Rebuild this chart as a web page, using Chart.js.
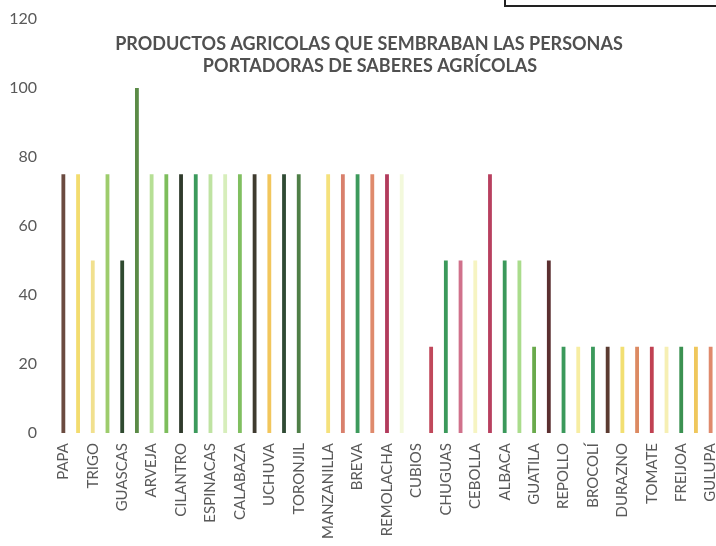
<!DOCTYPE html>
<html>
<head>
<meta charset="utf-8">
<script src="https://cdn.jsdelivr.net/npm/chart.js@4"></script>
<style>
  html, body { margin: 0; padding: 0; background: #fff; overflow: hidden; }
  #wrap { width: 720px; height: 546px; }
</style>
</head>
<body>
<div id="wrap"><canvas id="cultivos"></canvas></div>
<script>
// products (only every other name is readable in the picture)
const productos = [
    "PAPA", "", "TRIGO", "", "GUASCAS", "", "ARVEJA", "", "CILANTRO", "",
    "ESPINACAS", "", "CALABAZA", "", "UCHUVA", "", "TORONJIL", "", "MANZANILLA", "",
    "BREVA", "", "REMOLACHA", "", "CUBIOS", "", "CHUGUAS", "", "CEBOLLA", "",
    "ALBACA", "", "GUATILA", "", "REPOLLO", "", "BROCOLÍ", "", "DURAZNO", "",
    "TOMATE", "", "FREIJOA", "", "GULUPA"
];

// percentage of people
const porcentajes = [
    75, 75, 50, 75, 50, 100, 75, 75, 75, 75,
    75, 75, 75, 75, 75, 75, 75, 0, 75, 75,
    75, 75, 75, 75, 0, 25, 50, 50, 50, 75,
    50, 50, 25, 50, 25, 25, 25, 25, 25, 25,
    25, 25, 25, 25, 25
];

const colores = [
    "#6b4b40", "#f3dc6e", "#f1e08e", "#9dcc6c", "#2f4a30", "#5b8b47", "#b6df95", "#7dbd5c", "#2f3a2b", "#3c9a5c",
    "#bfe3a2", "#d7eebb", "#80bf60", "#3f3b2f", "#f2c65c", "#304b34", "#4f7f47", "#fbfde9", "#f5e17c", "#d9806c",
    "#3d9a5c", "#df8a6c", "#b23b5c", "#f3f9dc", "#ffffff", "#c0485b", "#3b995b", "#d0718b", "#f6f4c2", "#b8405f",
    "#3b995b", "#aadc8c", "#6aaa4c", "#5b2f30", "#3b995b", "#f7eda2", "#3b995b", "#5b3b31", "#f2df72", "#dc8a62",
    "#c04152", "#f6efb3", "#3b9151", "#efc75c", "#df8a6c"
];

const titulo = ["PRODUCTOS AGRICOLAS QUE SEMBRABAN LAS PERSONAS", "PORTADORAS DE SABERES AGRÍCOLAS"];

const gris = "#595959";

// title sits inside the plot, like the original
const tituloPlugin = {
    id: "tituloDentro",
    afterDraw(chart) {
        const ctx = chart.ctx;
        ctx.save();
        ctx.fillStyle = "#505050";
        ctx.font = "bold 18px Lato";
        ctx.textAlign = "center";
        ctx.textBaseline = "middle";
        ctx.fillText(titulo[0], 369, 44);
        ctx.fillText(titulo[1], 370, 66);
        // piece of the page border above the chart
        ctx.strokeStyle = "#222";
        ctx.lineWidth = 2;
        ctx.beginPath();
        ctx.moveTo(505, 0);
        ctx.lineTo(505, 6);
        ctx.lineTo(720, 6);
        ctx.stroke();
        ctx.restore();
    }
};

new Chart(document.getElementById("cultivos"), {
    type: "bar",
    data: {
        labels: productos,
        datasets: [{
            data: porcentajes,
            backgroundColor: colores,
            categoryPercentage: 1,
            barPercentage: 0.26
        }]
    },
    options: {
        responsive: true,
        maintainAspectRatio: false,
        animation: false,
        layout: { padding: { top: 19, right: 2, left: 0, bottom: 0 } },
        plugins: {
            legend: { display: false },
            tooltip: { enabled: false }
        },
        scales: {
            x: {
                grid: { display: false, drawTicks: false },
                border: { display: false },
                ticks: {
                    autoSkip: false,
                    maxRotation: 90,
                    minRotation: 90,
                    padding: 10,
                    color: gris,
                    font: { family: "Lato", size: 15 }
                },
                afterFit(scale) {
                    scale.height = 113;
                    scale.paddingLeft = 0;
                    scale.paddingRight = 0;
                }
            },
            y: {
                min: 0,
                max: 120,
                grid: { display: false, drawTicks: false },
                border: { display: false },
                ticks: {
                    stepSize: 20,
                    padding: 19,
                    color: gris,
                    font: { family: "Lato", size: 16 }
                },
                afterFit(scale) {
                    scale.width = 56;
                    scale.paddingTop = 0;
                    scale.paddingBottom = 0;
                }
            }
        }
    },
    plugins: [tituloPlugin]
});
</script>
</body>
</html>
